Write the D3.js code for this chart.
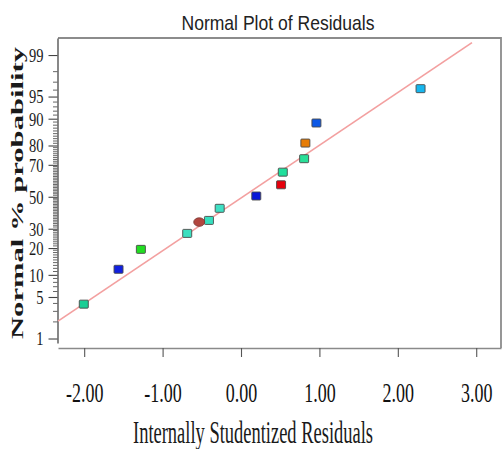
<!DOCTYPE html>
<html>
<head>
<meta charset="utf-8">
<script src="https://cdn.jsdelivr.net/npm/d3@7"></script>
<style>
  html, body { margin: 0; padding: 0; background: #fff; }
  svg { display: block; }
</style>
</head>
<body>
<svg id="chart" width="503" height="449"></svg>
<script>
// Residuals of each run and their normal % probability rank
const residuals     = [-2.005, -1.562, -1.277, -0.686, -0.533, -0.409, -0.272, 0.195, 0.511, 0.533, 0.805, 0.821, 0.962, 2.290];
const probabilities = [3.9, 11.7, 19.4, 27.4, 33.9, 34.9, 42.5, 50.5, 57.8, 65.7, 73.4, 81.1, 88.7, 96.2];
const pointColors   = ["#19cf95", "#1020e0", "#22dd22", "#3ddfbf", "#b2463f", "#36dfbf", "#3fe0c4",
                       "#0a16d8", "#e6000c", "#20df9c", "#2adf98", "#e67d08", "#0c58e6", "#17b6ee"];
const pointShapes   = ["square", "square", "square", "square", "circle", "square", "square",
                       "square", "square", "square", "square", "square", "square", "square"];

// Reference line end points (residual, % probability)
const fitResiduals     = [-2.334, 2.946];
const fitProbabilities = [2.06, 99.43];

// Axis ticks
const xTicks = [-2, -1, 0, 1, 2, 3];
const xTickLabels = ["-2.00", "-1.00", "0.00", "1.00", "2.00", "3.00"];
const yTicks = [1, 5, 10, 20, 30, 50, 70, 80, 90, 95, 99];
const yMinorTicks = d3.range(1, 100).filter(p => !yTicks.includes(p));

// Inverse standard normal CDF (Acklam's rational approximation)
function probit(p) {
  const a = [-3.969683028665376e+01, 2.209460984245205e+02, -2.759285104469687e+02, 1.383577518672690e+02, -3.066479806614716e+01, 2.506628277459239e+00];
  const b = [-5.447609879822406e+01, 1.615858368580409e+02, -1.556989798598866e+02, 6.680131188771972e+01, -1.328068155288572e+01];
  const c = [-7.784894002430293e-03, -3.223964580411365e-01, -2.400758277161838e+00, -2.549732539343734e+00, 4.374664141464968e+00, 2.938163982698783e+00];
  const d = [7.784695709041462e-03, 3.224671290700398e-01, 2.445134137142996e+00, 3.754408661907416e+00];
  const pl = 0.02425;
  if (p < pl) {
    const q = Math.sqrt(-2 * Math.log(p));
    return (((((c[0]*q+c[1])*q+c[2])*q+c[3])*q+c[4])*q+c[5]) / ((((d[0]*q+d[1])*q+d[2])*q+d[3])*q+1);
  }
  if (p > 1 - pl) {
    const q = Math.sqrt(-2 * Math.log(1 - p));
    return -(((((c[0]*q+c[1])*q+c[2])*q+c[3])*q+c[4])*q+c[5]) / ((((d[0]*q+d[1])*q+d[2])*q+d[3])*q+1);
  }
  const q = p - 0.5, r = q * q;
  return (((((a[0]*r+a[1])*r+a[2])*r+a[3])*r+a[4])*r+a[5])*q / (((((b[0]*r+b[1])*r+b[2])*r+b[3])*r+b[4])*r+1);
}

const svg = d3.select("#chart");

const plotLeft = 58, plotRight = 501, plotTop = 38, plotBottom = 348, leftAxisBottom = 343;

const x = d3.scaleLinear().domain([-2.334, 3.316]).range([plotLeft, plotRight]);
// y works on the normal quantile of the probability
const z = d3.scaleLinear().domain([-2.40, 2.606]).range([leftAxisBottom, plotTop]);
const y = pct => z(probit(pct / 100));

// Title
svg.append("text")
  .attr("x", 278).attr("y", 30)
  .attr("text-anchor", "middle")
  .attr("font-family", "'Liberation Sans', Arial, sans-serif")
  .attr("font-size", 21)
  .attr("textLength", 193).attr("lengthAdjust", "spacingAndGlyphs")
  .attr("fill", "#222")
  .text("Normal Plot of Residuals");

// Frame: top and right edges
svg.append("path")
  .attr("d", `M${plotLeft},${plotTop}H${plotRight}V${plotBottom}`)
  .attr("fill", "none").attr("stroke", "#8c8c8c").attr("stroke-width", 1.8);

// Minor ticks on the probability axis
svg.append("g")
  .selectAll("line")
  .data(yMinorTicks)
  .join("line")
  .attr("x1", plotLeft - 5).attr("x2", plotLeft - 0.5)
  .attr("y1", d => y(d)).attr("y2", d => y(d))
  .attr("stroke", "#555").attr("stroke-width", 0.9);

// Probability axis
const yAxis = svg.append("g")
  .attr("transform", `translate(${plotLeft - 0.5},0)`)
  .call(d3.axisLeft(z)
    .tickValues(yTicks.map(p => probit(p / 100)))
    .tickFormat((d, i) => yTicks[i])
    .tickSize(9).tickSizeOuter(0));
yAxis.select(".domain").attr("stroke", "#555").attr("stroke-width", 1.4);
yAxis.selectAll(".tick line").attr("stroke", "#444").attr("stroke-width", 1.1);
yAxis.selectAll(".tick text")
  .attr("x", 0).attr("dy", "0.34em")
  .attr("transform", "translate(-14,0) scale(1,1.28)")
  .attr("font-family", "'Liberation Serif', 'Times New Roman', serif")
  .attr("font-size", 14.5)
  .attr("fill", "#1a1a1a");

// Residual axis
const xAxis = svg.append("g")
  .attr("transform", `translate(0,${plotBottom})`)
  .call(d3.axisBottom(x)
    .tickValues(xTicks)
    .tickFormat((d, i) => xTickLabels[i])
    .tickSize(9).tickSizeOuter(0));
xAxis.select(".domain").attr("stroke", "#8a8a8a").attr("stroke-width", 1.6);
xAxis.selectAll(".tick line").attr("stroke", "#555").attr("stroke-width", 1.1);
xAxis.selectAll(".tick text")
  .attr("y", 0).attr("dy", "0.35em")
  .attr("transform", "translate(0,44.5) scale(1,1.5)")
  .attr("font-family", "'Liberation Serif', 'Times New Roman', serif")
  .attr("font-size", 18)
  .attr("fill", "#111");

// Axis titles
svg.append("text")
  .attr("transform", "translate(253,443) scale(1,1.72)")
  .attr("text-anchor", "middle")
  .attr("font-family", "'Liberation Serif', 'Times New Roman', serif")
  .attr("font-size", 18.5)
  .attr("textLength", 240).attr("lengthAdjust", "spacingAndGlyphs")
  .attr("fill", "#1a1a1a")
  .text("Internally Studentized Residuals");

svg.append("text")
  .attr("transform", "translate(22.5,193) rotate(-90)")
  .attr("text-anchor", "middle")
  .attr("font-family", "'Liberation Serif', 'Times New Roman', serif")
  .attr("font-weight", "bold")
  .attr("font-size", 16.5)
  .attr("textLength", 292).attr("lengthAdjust", "spacingAndGlyphs")
  .attr("fill", "#1a1a1a")
  .text("Normal % probability");

// Reference line
svg.append("line")
  .attr("x1", x(fitResiduals[0])).attr("y1", y(fitProbabilities[0]))
  .attr("x2", x(fitResiduals[1])).attr("y2", y(fitProbabilities[1]))
  .attr("stroke", "#f3a0a0").attr("stroke-width", 1.7);

// Residual points
const pts = residuals.map((r, i) => ({ r, p: probabilities[i], color: pointColors[i], shape: pointShapes[i] }));
const g = svg.append("g");
g.selectAll("rect")
  .data(pts.filter(d => d.shape === "square"))
  .join("rect")
  .attr("x", d => x(d.r) - 4.5).attr("y", d => y(d.p) - 4)
  .attr("width", 9).attr("height", 8)
  .attr("rx", 0.8)
  .attr("fill", d => d.color)
  .attr("stroke", "#4a4a4a").attr("stroke-width", 0.9);
g.selectAll("ellipse")
  .data(pts.filter(d => d.shape === "circle"))
  .join("ellipse")
  .attr("cx", d => x(d.r)).attr("cy", d => y(d.p))
  .attr("rx", 5.5).attr("ry", 4.3)
  .attr("fill", d => d.color)
  .attr("stroke", "#7a3a36").attr("stroke-width", 0.8);
</script>
</body>
</html>
